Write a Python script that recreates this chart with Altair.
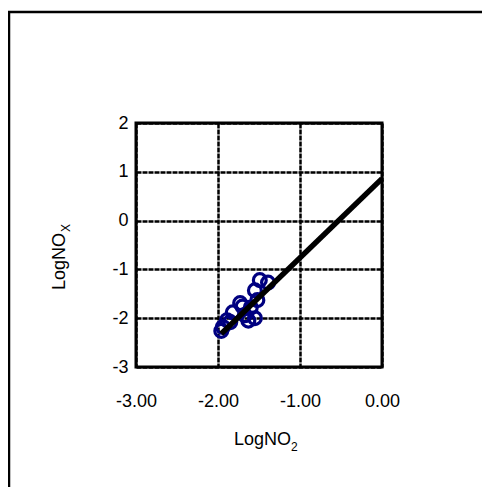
import altair as alt
import pandas as pd

# Observed points (LogNO2, LogNOx)
pt_x = [-1.49, -1.39, -1.55, -1.52, -1.73, -1.82, -1.67, -1.55, -1.89, -1.94, -1.96, -1.60, -1.70, -1.63, -1.85]
pt_y = [-1.22, -1.27, -1.43, -1.63, -1.69, -1.88, -1.94, -2.00, -2.04, -2.18, -2.26, -1.78, -1.76, -2.05, -2.08]

# Fitted line endpoints
line_x = [-1.96, 0.0]
line_y = [-2.32, 0.86]

x_ticks = [-3, -2, -1, 0]
y_ticks = [-3, -2, -1, 0, 1, 2]

pts = pd.DataFrame({"x": pt_x, "y": pt_y})
ln = pd.DataFrame({"x": line_x, "y": line_y})
one = pd.DataFrame({"a": [0]})

FONT = "Liberation Sans"
FS = 18

xs = alt.Scale(domain=[-3, 0], nice=False, zero=False)
ys = alt.Scale(domain=[-3, 2], nice=False, zero=False)

xaxis = alt.Axis(values=x_ticks, title=None, grid=True, gridColor="black", gridWidth=2.5,
                 gridDash=[5, 1], domain=False, ticks=False, labelPadding=25,
                 labelFlush=False, labelOverlap=False,
                 labelFont=FONT, labelFontSize=FS, labelColor="black",
                 labelExpr="datum.value < 0 ? '-' + format(-datum.value, '.2f') : format(datum.value, '.2f')")
yaxis = alt.Axis(values=y_ticks, title=None, grid=True, gridColor="black", gridWidth=2.5,
                 gridDash=[5, 1], domain=False, ticks=False, labelPadding=8,
                 labelFlush=False, labelOverlap=False,
                 labelFont=FONT, labelFontSize=FS, labelColor="black",
                 labelExpr="datum.value < 0 ? '-' + format(-datum.value, 'd') : format(datum.value, 'd')")

points = alt.Chart(pts).mark_point(shape="circle", filled=False, color="#000080",
                                   strokeWidth=3.2, size=165, opacity=1).encode(
    x=alt.X("x:Q", scale=xs, axis=xaxis),
    y=alt.Y("y:Q", scale=ys, axis=yaxis),
)

line = alt.Chart(ln).mark_line(color="black", strokeWidth=5.5).encode(
    x=alt.X("x:Q", scale=xs),
    y=alt.Y("y:Q", scale=ys),
)

xt1 = alt.Chart(one).mark_text(text="LogNO", font=FONT, fontSize=FS, align="right",
                               baseline="alphabetic", color="black").encode(
    x=alt.value(155), y=alt.value(322))
xt2 = alt.Chart(one).mark_text(text="2", font=FONT, fontSize=12, align="left",
                               baseline="alphabetic", color="black").encode(
    x=alt.value(155), y=alt.value(328))
yt1 = alt.Chart(one).mark_text(text="LogNO", font=FONT, fontSize=FS, align="left",
                               baseline="alphabetic", angle=270, color="black").encode(
    x=alt.value(-71), y=alt.value(167))
yt2 = alt.Chart(one).mark_text(text="X", font=FONT, fontSize=12, align="left",
                               baseline="alphabetic", angle=270, color="black").encode(
    x=alt.value(-66), y=alt.value(109))

frame_top = alt.Chart(one).mark_rule(color="black", strokeWidth=2.5).encode(
    x=alt.value(-128), x2=alt.value(400), y=alt.value(-111))
frame_left = alt.Chart(one).mark_rule(color="black", strokeWidth=2.5).encode(
    x=alt.value(-127), y=alt.value(-112), y2=alt.value(400))

chart = alt.layer(points, line, xt1, xt2, yt1, yt2, frame_top, frame_left).properties(
    width=246, height=244,
    autosize=alt.AutoSizeParams(type="none"),
    padding={"left": 128, "top": 115, "right": 100, "bottom": 120},
    background="white",
).configure_view(stroke="black", strokeWidth=3)

chart.save("out.html", embed_options={"renderer": "svg", "actions": False})
